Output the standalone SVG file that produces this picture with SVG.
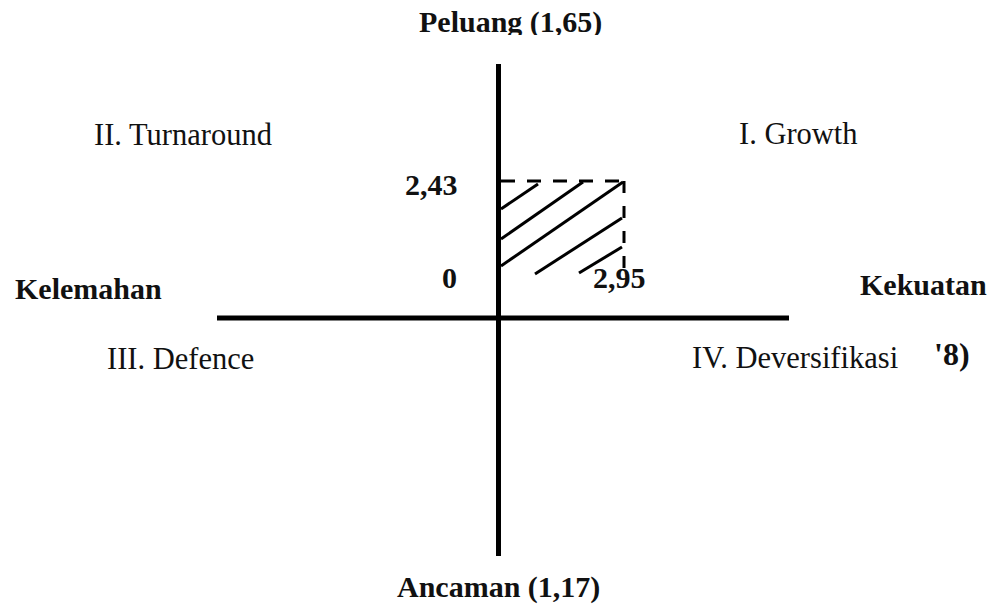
<svg xmlns="http://www.w3.org/2000/svg" width="992" height="605" viewBox="0 0 992 605">
<defs>
<style>
.b{font-family:"Liberation Serif","Times New Roman",serif;font-weight:bold;font-size:30px;fill:#111}
.r{font-family:"Liberation Serif","Times New Roman",serif;font-size:30.5px;fill:#111}
.ax{stroke:#000;stroke-width:5;fill:none}
.h{stroke:#000;stroke-width:3;fill:none}
.d{stroke:#000;stroke-width:3;fill:none;stroke-dasharray:14 12}
</style>
<clipPath id="topclip"><rect x="0" y="0" width="992" height="35"/></clipPath>
</defs>
<rect width="992" height="605" fill="#fff"/>
<g id="connectors">
<line class="ax" x1="498.5" y1="64" x2="498.5" y2="556"/>
<line class="ax" x1="217" y1="318" x2="789" y2="318"/>
</g>
<g id="area">
<line class="d" x1="501" y1="181" x2="624" y2="181"/>
<line class="d" x1="624" y1="181" x2="624" y2="272" style="stroke-dasharray:12 13"/>
<line class="h" x1="501" y1="209" x2="538" y2="184"/>
<line class="h" x1="501" y1="239" x2="583" y2="182"/>
<line class="h" x1="501" y1="266" x2="623" y2="182"/>
<line class="h" x1="535" y1="274" x2="622" y2="218"/>
<line class="h" x1="579" y1="273" x2="622" y2="247"/>
</g>
<g id="peluang"><text class="b" x="419" y="32" clip-path="url(#topclip)">Peluang (1,65)</text></g>
<g id="ancaman"><text class="b" x="397" y="597">Ancaman (1,17)</text></g>
<g id="kelemahan"><text class="b" x="15" y="299">Kelemahan</text></g>
<g id="kekuatan"><text class="b" x="860" y="295">Kekuatan</text></g>
<g id="q2"><text class="r" x="94" y="145">II. Turnaround</text></g>
<g id="q1"><text class="r" x="739" y="144">I. Growth</text></g>
<g id="q3"><text class="r" x="107" y="369">III. Defence</text></g>
<g id="q4"><text class="r" x="692" y="368">IV. Deversifikasi</text></g>
<g id="frag"><text class="b" x="934" y="365" style="font-size:32px">'8)</text></g>
<g id="v243"><text class="b" x="405" y="195">2,43</text></g>
<g id="v0"><text class="b" x="442" y="288">0</text></g>
<g id="v295"><text class="b" x="593" y="288">2,95</text></g>
</svg>
